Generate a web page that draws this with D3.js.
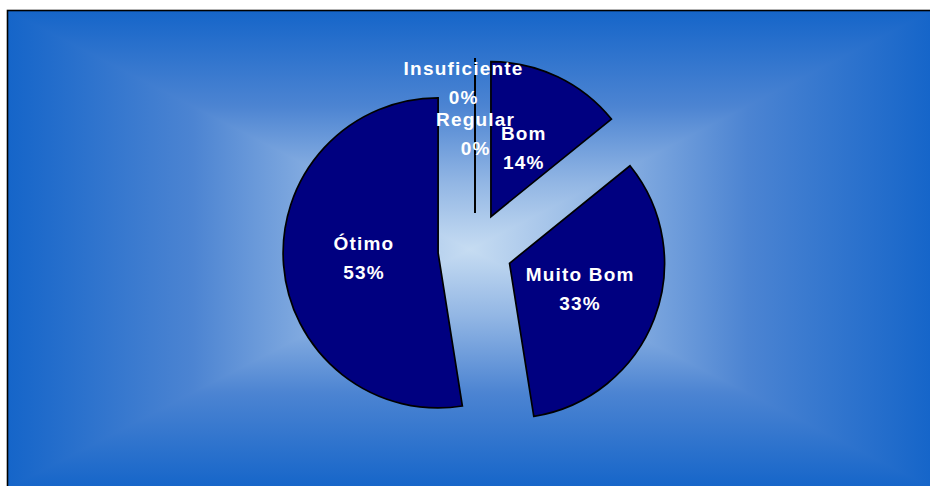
<!DOCTYPE html>
<html>
<head>
<meta charset="utf-8">
<script src="https://cdn.jsdelivr.net/npm/d3@7"></script>
<style>
  html, body { margin: 0; padding: 0; background: #ffffff; }
  svg { display: block; }
</style>
</head>
<body>
<svg id="chart" width="930" height="486"></svg>
<script>
// ---- data ----
const categories = ["Insuficiente", "Regular", "Bom", "Muito Bom", "Ótimo"];
const values = [0, 0, 17, 40, 63];
const percentLabels = ["0%", "0%", "14%", "33%", "53%"];
// small label nudges (collision avoidance as in the original)
const labelNudgeX = [-12, 0, 0, 0, 0];
const labelNudgeY = [-54, -3, 0, 0, 0];

const W = 930, H = 486;
const svg = d3.select("#chart");

// plot area box
const px0 = 7.5, py0 = 10.5, px1 = 932.5, py1 = 488.5;
const gcx = (px0 + px1) / 2, gcy = (py0 + py1) / 2;

const defs = svg.append("defs");
const stops = [
  [0, "#1565c9"], [0.4, "#4c84d2"], [0.72, "#92b6e4"], [1, "#c6dcf2"]
];
function makeGrad(id, x1, y1, x2, y2, mirror) {
  const g = defs.append("linearGradient").attr("id", id)
    .attr("gradientUnits", "userSpaceOnUse")
    .attr("x1", x1).attr("y1", y1).attr("x2", x2).attr("y2", y2);
  if (mirror) g.attr("spreadMethod", "reflect");
  stops.forEach(s => g.append("stop").attr("offset", s[0]).attr("stop-color", s[1]));
}
makeGrad("gVert", 0, py0, 0, gcy, true);
makeGrad("gLeft", px0, 0, gcx, 0);
makeGrad("gRight", px1, 0, gcx, 0);

const bg = svg.append("g");
// base: vertical (top/bottom) part of the rectangular gradient
bg.append("rect").attr("x", px0).attr("y", py0)
  .attr("width", px1 - px0).attr("height", py1 - py0)
  .attr("fill", "url(#gVert)");
const tri = (pts, fill) => bg.append("path")
  .attr("d", "M" + pts.map(p => p.join(",")).join("L") + "Z")
  .attr("fill", fill);
tri([[px0, py0], [px0, py1], [gcx, gcy]], "url(#gLeft)");
tri([[px1, py0], [px1, py1], [gcx, gcy]], "url(#gRight)");

svg.append("rect")
  .attr("x", px0).attr("y", py0)
  .attr("width", px1 - px0).attr("height", py1 - py0)
  .attr("fill", "none").attr("stroke", "#000").attr("stroke-width", 1.6);

// ---- pie ----
const cx = 475, cy = 250, R = 155, explode = 37, labelR = 75;
const pie = d3.pie().sort(null).value(d => d)(values);
const arc = d3.arc().innerRadius(0).outerRadius(R);

const g = svg.append("g").attr("transform", `translate(${cx},${cy})`);

pie.forEach((p, i) => {
  const mid = (p.startAngle + p.endAngle) / 2;
  const ox = Math.sin(mid) * explode, oy = -Math.cos(mid) * explode;
  const sg = g.append("g").attr("transform", `translate(${ox},${oy})`);
  if (p.endAngle - p.startAngle > 1e-6) {
    sg.append("path").attr("d", arc(p))
      .attr("fill", "#000080").attr("stroke", "#000").attr("stroke-width", 1.7)
      .attr("stroke-linejoin", "miter");
  } else {
    sg.append("line")
      .attr("x1", 0).attr("y1", 0)
      .attr("x2", Math.sin(mid) * R).attr("y2", -Math.cos(mid) * R)
      .attr("stroke", "#000").attr("stroke-width", 1.8);
  }
});

pie.forEach((p, i) => {
  const mid = (p.startAngle + p.endAngle) / 2;
  const lx = Math.sin(mid) * (explode + labelR) + labelNudgeX[i];
  const ly = -Math.cos(mid) * (explode + labelR) + labelNudgeY[i];
  const t = g.append("text")
    .attr("text-anchor", "middle")
    .attr("font-family", "'Liberation Sans', Arial, sans-serif")
    .attr("font-weight", "bold")
    .attr("font-size", 19)
    .attr("letter-spacing", "1.2px")
    .attr("fill", "#ffffff");
  t.append("tspan").attr("x", lx + 0.6).attr("y", ly - 9).text(categories[i]);
  t.append("tspan").attr("x", lx + 0.6).attr("y", ly + 20).text(percentLabels[i]);
});
</script>
</body>
</html>
